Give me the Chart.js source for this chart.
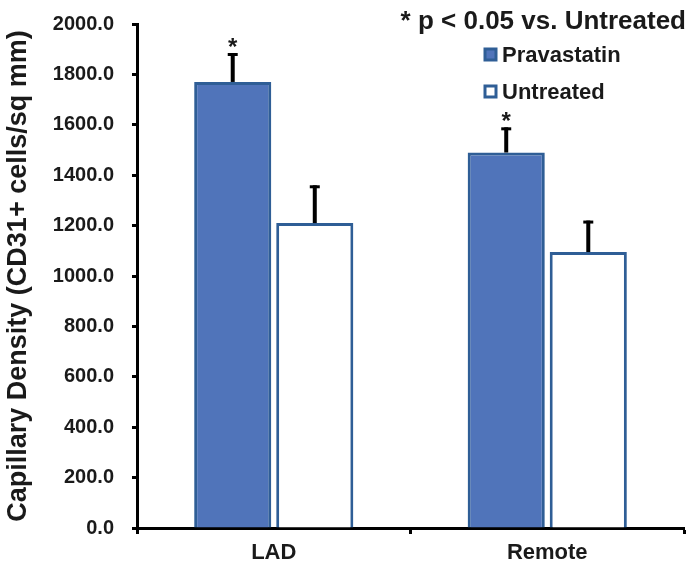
<!DOCTYPE html>
<html>
<head>
<meta charset="utf-8">
<script src="https://cdn.jsdelivr.net/npm/chart.js@4"></script>
<style>
  html, body { margin: 0; padding: 0; background: #fff; }
  #wrap { width: 690px; height: 566px; }
</style>
</head>
<body>
<div id="wrap"><canvas id="myChart" width="690" height="566"></canvas></div>
<script>
const categories = ['LAD', 'Remote'];
const pravastatin = [1770, 1490];
const pravastatinErr = [115, 100];
const untreated = [1210, 1095];
const untreatedErr = [150, 125];
const significant = [true, true]; // star over pravastatin bars
const yTicks = [0, 200, 400, 600, 800, 1000, 1200, 1400, 1600, 1800, 2000];

const FONT = 'Liberation Sans, Arial, sans-serif';
const blue = '#5074BA';
const edge = '#2F5E96';

// error bars + stars + legend text
const extras = {
  id: 'extras',
  afterDatasetsDraw(chart) {
    const ctx = chart.ctx;
    const y = chart.scales.y;
    const errs = [pravastatinErr, untreatedErr];
    const vals = [pravastatin, untreated];
    ctx.save();
    ctx.strokeStyle = '#000';
    ctx.fillStyle = '#000';
    errs.forEach((errArr, di) => {
      const meta = chart.getDatasetMeta(di);
      meta.data.forEach((bar, i) => {
        const top = y.getPixelForValue(vals[di][i]);
        const hi = y.getPixelForValue(vals[di][i] + errArr[i]);
        ctx.lineWidth = 4;
        ctx.beginPath();
        ctx.moveTo(bar.x, top);
        ctx.lineTo(bar.x, hi);
        ctx.stroke();
        ctx.lineWidth = 3;
        ctx.beginPath();
        ctx.moveTo(bar.x - 5, hi + 1.5);
        ctx.lineTo(bar.x + 5, hi + 1.5);
        ctx.stroke();
        if (di === 0 && significant[i]) {
          ctx.fillStyle = '#1a1a1a';
          ctx.font = 'bold 24px ' + FONT;
          ctx.textAlign = 'center';
          ctx.textBaseline = 'alphabetic';
          ctx.fillText('*', bar.x, hi + 2);
        }
      });
    });
    ctx.restore();
  },
  afterDraw(chart) {
    const ctx = chart.ctx;
    ctx.save();
    ctx.fillStyle = '#1a1a1a';
    ctx.textBaseline = 'middle';
    ctx.textAlign = 'right';
    ctx.font = 'bold 26px ' + FONT;
    ctx.fillText('* p < 0.05 vs. Untreated', 686, 22);
    ctx.textAlign = 'left';
    ctx.font = 'bold 22px ' + FONT;
    const items = [
      { label: 'Pravastatin', fill: blue, y: 55 },
      { label: 'Untreated', fill: '#fff', y: 92 }
    ];
    items.forEach(it => {
      ctx.fillStyle = it.fill;
      ctx.strokeStyle = edge;
      ctx.lineWidth = 3;
      ctx.fillRect(485, it.y - 6, 11, 11);
      ctx.strokeRect(485, it.y - 6, 11, 11);
      ctx.fillStyle = '#1a1a1a';
      ctx.fillText(it.label, 502, it.y + 1);
    });
    ctx.restore();
  }
};

new Chart(document.getElementById('myChart'), {
  type: 'bar',
  data: {
    labels: categories,
    datasets: [{
      label: 'Pravastatin',
      data: pravastatin,
      backgroundColor: blue,
      borderColor: edge,
      borderWidth: 3,
    },
    {
      label: 'Untreated',
      data: untreated,
      backgroundColor: '#fff',
      borderColor: edge,
      borderWidth: 3,
    }]
  },
  options: {
    responsive: false,
    animation: false,
    events: [],
    layout: { padding: { top: 24, right: 6, left: 2, bottom: 0 } },
    categoryPercentage: 0.6,
    barPercentage: 0.94,
    plugins: {
      legend: { display: false },
      tooltip: { enabled: false }
    },
    scales: {
      x: {
        grid: { drawOnChartArea: false, drawTicks: true, tickLength: 6, tickWidth: 3, tickColor: '#000', offset: true },
        border: { display: true, color: '#000', width: 3 },
        ticks: { color: '#1a1a1a', font: { family: FONT, size: 22, weight: 'bold' }, padding: 6 },
        afterFit(scale) { scale.height = 38; }
      },
      y: {
        min: 0,
        max: 2000,
        afterBuildTicks(scale) { scale.ticks = yTicks.map(v => ({ value: v })); },
        grid: { drawOnChartArea: false, drawTicks: true, tickLength: 5, tickWidth: 3, tickColor: '#000' },
        border: { display: true, color: '#000', width: 3 },
        ticks: {
          color: '#1a1a1a',
          font: { family: FONT, size: 20, weight: 'bold' },
          padding: 18,
          callback: v => Number(v).toFixed(1)
        },
        title: {
          display: true,
          text: 'Capillary Density (CD31+ cells/sq mm)',
          color: '#1a1a1a',
          font: { family: FONT, size: 27, weight: 'bold' },
          padding: { top: 0, bottom: 0 }
        },
        afterFit(scale) {
          scale.width = 135;
          scale.paddingTop = 0;
          scale.paddingBottom = 0;
        }
      }
    }
  },
  plugins: [extras]
});
</script>
</body>
</html>
